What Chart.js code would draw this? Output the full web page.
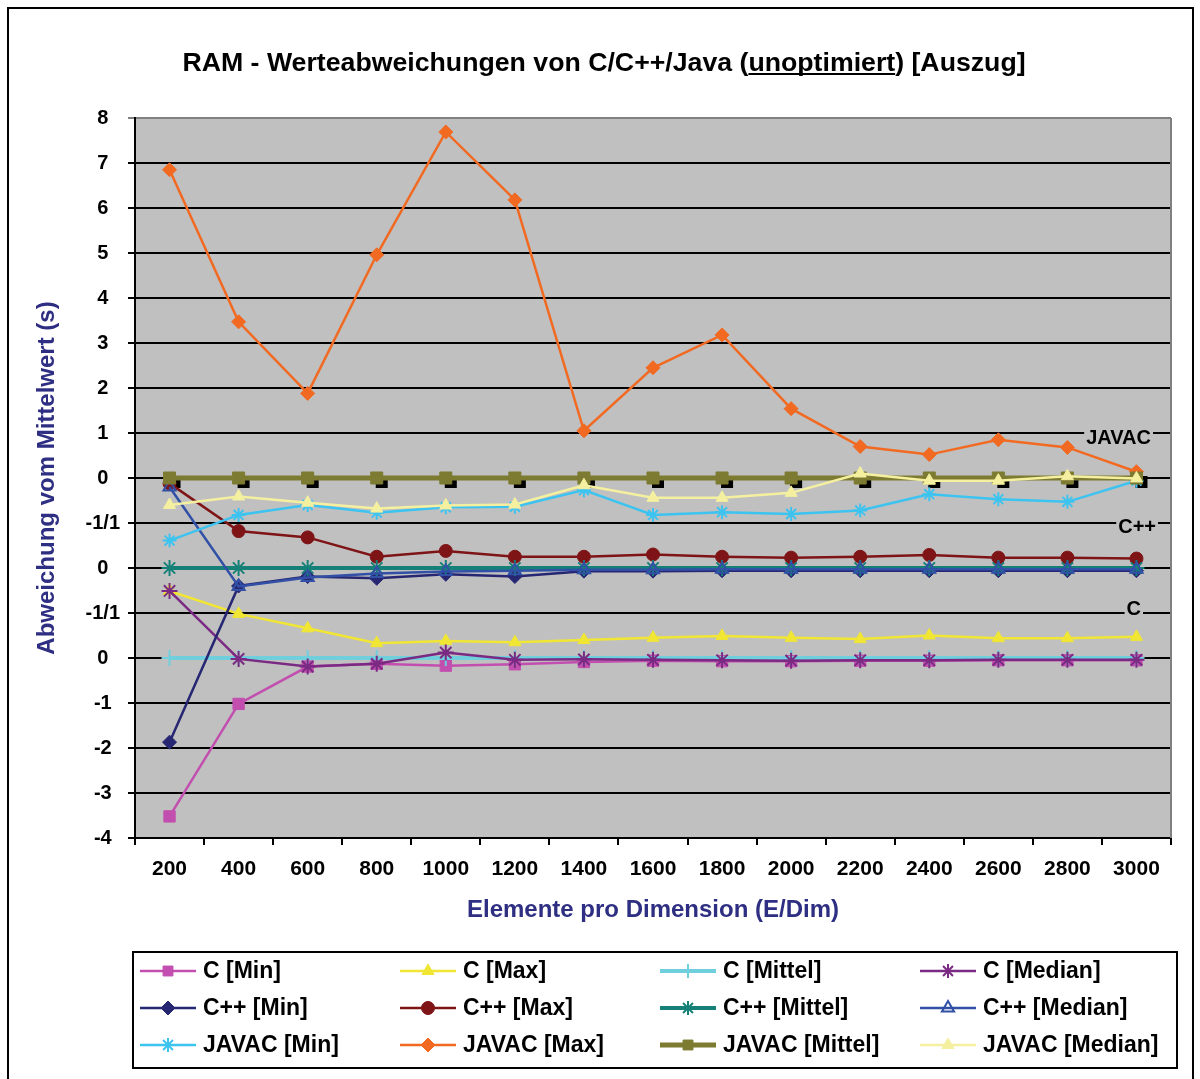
<!DOCTYPE html>
<html>
<head>
<meta charset="utf-8">
<script src="https://cdn.jsdelivr.net/npm/chart.js@4.4.0/dist/chart.umd.min.js"></script>
<style>
  html, body { margin: 0; padding: 0; background: #fff; }
  #wrap { position: relative; width: 1200px; height: 1079px; overflow: hidden; }
  #frame { position: absolute; left: 7px; top: 7px; width: 1183px; height: 1100px; border: 2px solid #000; }
  canvas { position: absolute; left: 0; top: 0; }
</style>
</head>
<body>
<div id="wrap">
  <div id="frame"></div>
  <canvas id="my_chart" width="1200" height="1079"></canvas>
</div>
<script>
(function() {
  'use strict';

  // Kategorien (Elemente pro Dimension)
  var categories = ['200', '400', '600', '800', '1000', '1200', '1400', '1600',
                    '1800', '2000', '2200', '2400', '2600', '2800', '3000'];

  // Beschriftung der y-Achse (Wert -4 .. 12, drei gestapelte Gruppen)
  var yTickLabels = ['-4', '-3', '-2', '-1', '0', '-1/1', '0', '-1/1', '0',
                     '1', '2', '3', '4', '5', '6', '7', '8'];

  // Verschiebung der Gruppen auf der y-Achse
  var offsetC = 0;
  var offsetCpp = 2;
  var offsetJavac = 4;
  var groupLabels = ['JAVAC', 'C++', 'C'];

  // Abweichung vom Mittelwert (s)
  var cMin      = [-3.52, -1.02, -0.19, -0.13, -0.17, -0.14, -0.09, -0.06, -0.07, -0.07, -0.06, -0.06, -0.05, -0.05, -0.05];
  var cMax      = [1.49, 0.98, 0.66, 0.33, 0.38, 0.35, 0.40, 0.45, 0.49, 0.45, 0.42, 0.50, 0.44, 0.44, 0.47];
  var cMittel   = [0, 0, 0, 0, 0, 0, 0, 0, 0, 0, 0, 0, 0, 0, 0];
  var cMedian   = [1.49, -0.02, -0.19, -0.13, 0.12, -0.04, -0.03, -0.04, -0.05, -0.06, -0.05, -0.05, -0.04, -0.04, -0.04];

  var cppMin    = [-3.87, -0.40, -0.19, -0.23, -0.14, -0.19, -0.07, -0.07, -0.06, -0.06, -0.06, -0.06, -0.06, -0.06, -0.06];
  var cppMax    = [1.88, 0.82, 0.68, 0.25, 0.38, 0.25, 0.25, 0.30, 0.25, 0.23, 0.25, 0.29, 0.23, 0.23, 0.21];
  var cppMittel = [0, 0, 0, 0, 0, 0, 0, 0, 0, 0, 0, 0, 0, 0, 0];
  var cppMedian = [1.80, -0.41, -0.21, -0.12, -0.08, -0.06, -0.04, -0.04, -0.03, -0.03, -0.03, -0.03, -0.03, -0.03, -0.03];

  var javacMin    = [-1.39, -0.82, -0.60, -0.77, -0.65, -0.64, -0.27, -0.82, -0.76, -0.80, -0.72, -0.36, -0.47, -0.53, -0.06];
  var javacMax    = [6.85, 3.47, 1.88, 4.96, 7.69, 6.18, 1.05, 2.45, 3.18, 1.54, 0.70, 0.52, 0.85, 0.68, 0.14];
  var javacMittel = [0, 0, 0, 0, 0, 0, 0, 0, 0, 0, 0, 0, 0, 0, 0];
  var javacMedian = [-0.60, -0.41, -0.55, -0.68, -0.61, -0.59, -0.16, -0.44, -0.44, -0.33, 0.10, -0.06, -0.06, 0.04, -0.01];

  var FONT = '"Liberation Sans", Arial, sans-serif';
  var NAVY = '#2E2E82';

  function shift(values, off) {
    return values.map(function(v) { return v + off; });
  }

  // Serien: Farbe, Marker, Linienstaerke
  var series = [
    { label: 'C [Min]',          data: cMin,        off: offsetC,     color: '#C24FAF', style: 'rect',     r: 8,   w: 2.5 },
    { label: 'C [Max]',          data: cMax,        off: offsetC,     color: '#F0E633', style: 'triangle', r: 7,   w: 2.5 },
    { label: 'C [Mittel]',       data: cMittel,     off: offsetC,     color: '#6FCFDD', style: 'cross',    r: 8,   w: 4 },
    { label: 'C [Median]',       data: cMedian,     off: offsetC,     color: '#7A2A82', style: 'star',     r: 8,   w: 2.5 },
    { label: 'C++ [Min]',        data: cppMin,      off: offsetCpp,   color: '#262673', style: 'rectRot',  r: 7,   w: 2.5 },
    { label: 'C++ [Max]',        data: cppMax,      off: offsetCpp,   color: '#7F1416', style: 'circle',   r: 6.5, w: 2.5 },
    { label: 'C++ [Mittel]',     data: cppMittel,   off: offsetCpp,   color: '#148077', style: 'star',     r: 8,   w: 4 },
    { label: 'C++ [Median]',     data: cppMedian,   off: offsetCpp,   color: '#3150A6', style: 'triangle', r: 7,   w: 2.5, open: true },
    { label: 'JAVAC [Min]',      data: javacMin,    off: offsetJavac, color: '#3DC3F0', style: 'star',     r: 7,   w: 2.5 },
    { label: 'JAVAC [Max]',      data: javacMax,    off: offsetJavac, color: '#F26A22', style: 'rectRot',  r: 7,   w: 2.5 },
    { label: 'JAVAC [Mittel]',   data: javacMittel, off: offsetJavac, color: '#7D7B31', style: 'rect',     r: 8.5, w: 5 },
    { label: 'JAVAC [Median]',   data: javacMedian, off: offsetJavac, color: '#F4F0A0', style: 'triangle', r: 7,   w: 2.5 }
  ];

  var datasets = series.map(function(s, i) {
    var stroked = (s.style === 'star' || s.style === 'cross');
    return {
      label: s.label,
      data: shift(s.data, s.off),
      borderColor: s.color,
      backgroundColor: s.color,
      borderWidth: s.w,
      pointStyle: s.style,
      pointRadius: s.r,
      pointBackgroundColor: s.open ? 'rgba(0,0,0,0)' : s.color,
      pointBorderColor: s.color,
      pointBorderWidth: stroked || s.open ? 2 : 1,
      tension: 0,
      fill: false,
      order: series.length - i // letzte Serie oben
    };
  });

  // Hintergrund der Zeichenflaeche + Schatten der JAVAC [Mittel]-Marker
  var plotArea = {
    id: 'plotArea',
    beforeDraw: function(chart) {
      var a = chart.chartArea, ctx = chart.ctx;
      ctx.save();
      ctx.fillStyle = '#C0C0C0';
      ctx.fillRect(a.left, a.top, a.right - a.left, a.bottom - a.top);
      ctx.restore();
    },
    beforeDatasetsDraw: function(chart) {
      var a = chart.chartArea, ctx = chart.ctx;
      ctx.save();
      ctx.strokeStyle = '#808080';
      ctx.lineWidth = 2;
      ctx.beginPath();
      ctx.moveTo(a.right, a.top);
      ctx.lineTo(a.right, a.bottom);
      ctx.stroke();
      var meta = chart.getDatasetMeta(10);
      ctx.fillStyle = '#000';
      meta.data.forEach(function(pt) {
        ctx.fillRect(pt.x - 1, pt.y - 2, 12, 12);
      });
      ctx.restore();
    },
    afterDatasetsDraw: function(chart) {
      var ctx = chart.ctx, y = chart.scales.y, a = chart.chartArea;
      var pos = [
        { v: offsetJavac + 1, dy: 5, right: a.right - 20 },
        { v: offsetCpp + 1, dy: 4, right: a.right - 15 },
        { v: offsetC + 1, dy: -4, right: a.right - 30 }
      ];
      ctx.save();
      ctx.font = 'bold 20px ' + FONT;
      ctx.textBaseline = 'middle';
      ctx.textAlign = 'right';
      groupLabels.forEach(function(t, i) {
        var py = y.getPixelForValue(pos[i].v) + pos[i].dy;
        var w = ctx.measureText(t).width;
        ctx.fillStyle = '#C0C0C0';
        ctx.fillRect(pos[i].right - w - 2, py - 9, w + 4, 18);
        ctx.fillStyle = '#000';
        ctx.fillText(t, pos[i].right, py);
      });
      ctx.restore();
    }
  };

  // Titel mit unterstrichenem Wort
  var titlePlugin = {
    id: 'titleUnderline',
    afterDraw: function(chart) {
      var ctx = chart.ctx;
      var parts = ['RAM - Werteabweichungen von C/C++/Java (', 'unoptimiert', ') [Auszug]'];
      ctx.save();
      ctx.font = 'bold 26.7px ' + FONT;
      ctx.fillStyle = '#000';
      ctx.textBaseline = 'alphabetic';
      ctx.textAlign = 'left';
      var full = parts.join('');
      var total = ctx.measureText(full).width;
      var x = 604 - total / 2;
      var base = 71;
      ctx.fillText(full, x, base);
      var x1 = x + ctx.measureText(parts[0]).width;
      var w1 = ctx.measureText(parts[1]).width;
      ctx.fillRect(x1, base + 2, w1, 2);
      ctx.restore();
    }
  };

  // Legende im Kasten, 4 Spalten x 3 Zeilen
  var boxLegend = {
    id: 'boxLegend',
    afterDraw: function(chart) {
      var ctx = chart.ctx;
      var bx = 133, by = 952, bw = 1044, bh = 116;
      ctx.save();
      ctx.fillStyle = '#fff';
      ctx.fillRect(bx, by, bw, bh);
      ctx.strokeStyle = '#000';
      ctx.lineWidth = 2;
      ctx.strokeRect(bx, by, bw, bh);
      ctx.font = 'bold 23px ' + FONT;
      ctx.textBaseline = 'middle';
      chart.data.datasets.forEach(function(ds, i) {
        var col = i % 4, row = Math.floor(i / 4);
        var x0 = bx + 7 + col * 260;
        var cy = by + 19 + row * 37;
        ctx.strokeStyle = ds.borderColor;
        ctx.lineWidth = ds.borderWidth;
        ctx.beginPath();
        ctx.moveTo(x0, cy);
        ctx.lineTo(x0 + 56, cy);
        ctx.stroke();
        ctx.fillStyle = ds.pointBackgroundColor;
        ctx.strokeStyle = ds.pointBorderColor;
        ctx.lineWidth = ds.pointBorderWidth;
        Chart.helpers.drawPoint(ctx, {
          pointStyle: ds.pointStyle,
          radius: Math.min(ds.pointRadius, 7),
          rotation: 0,
          borderWidth: ds.pointBorderWidth
        }, x0 + 28, cy);
        ctx.fillStyle = '#000';
        ctx.textAlign = 'left';
        ctx.fillText(ds.label, x0 + 63, cy + 1);
      });
      ctx.restore();
    }
  };

  var ctx = document.getElementById('my_chart').getContext('2d');
  new Chart(ctx, {
    type: 'line',
    data: { labels: categories, datasets: datasets },
    plugins: [plotArea, titlePlugin, boxLegend],
    options: {
      responsive: false,
      animation: false,
      layout: { padding: { top: 118, left: 0, right: 29, bottom: 141 } },
      plugins: {
        legend: { display: false },
        title: { display: false },
        tooltip: { enabled: false }
      },
      scales: {
        x: {
          offset: true,
          grid: { offset: true, drawOnChartArea: false, drawTicks: true, tickLength: 7, color: '#000', lineWidth: 2 },
          border: { color: '#000', width: 2 },
          ticks: { color: '#000', font: { family: FONT, size: 21, weight: 'bold' }, padding: 12, maxRotation: 0, autoSkip: false },
          title: { display: true, text: 'Elemente pro Dimension (E/Dim)', color: NAVY,
                   font: { family: FONT, size: 24, weight: 'bold' }, padding: { top: 4, bottom: 13 } },
          afterFit: function(scale) { scale.height = 100; }
        },
        y: {
          min: -4,
          max: 12,
          grid: {
            color: function(c) { return c.tick && c.tick.value === 12 ? '#808080' : '#000'; },
            lineWidth: 2,
            tickLength: 7
          },
          border: { color: '#000', width: 2 },
          ticks: {
            stepSize: 1,
            color: '#000',
            crossAlign: 'center',
            padding: 8,
            font: { family: FONT, size: 20, weight: 'bold' },
            callback: function(v) { return yTickLabels[v + 4]; }
          },
          title: { display: true, text: 'Abweichung vom Mittelwert (s)', color: NAVY,
                   font: { family: FONT, size: 24, weight: 'bold' }, padding: { top: 33, bottom: 0 } },
          afterFit: function(scale) { scale.width = 135; }
        }
      }
    }
  });
})();
</script>
</body>
</html>
